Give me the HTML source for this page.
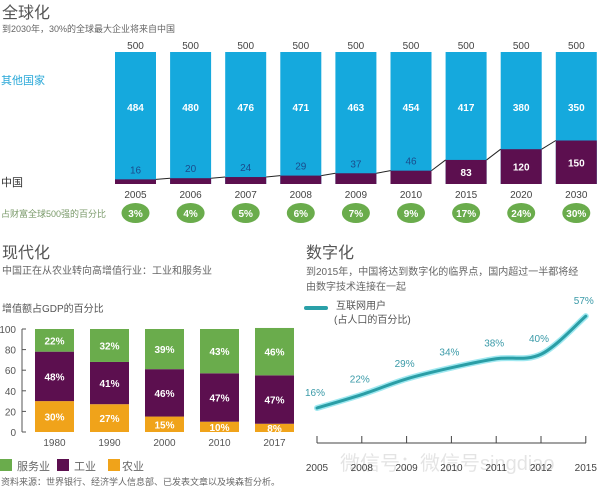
<!DOCTYPE html>
<html><head><meta charset="utf-8"><style>
body{margin:0;background:#fff;}
svg{display:block;font-family:"Liberation Sans","Noto Sans CJK SC",sans-serif;}
</style></head><body>
<svg id="c" width="602" height="488" viewBox="0 0 602 488">
<text x="2" y="18" font-size="16" fill="#555">全球化</text>
<text x="2" y="32" font-size="9" fill="#666">到2030年，30%的全球最大企业将来自中国</text>
<text x="1" y="84" font-size="11" fill="#29a8d8">其他国家</text>
<text x="1" y="186" font-size="11" fill="#333">中国</text>
<text x="1" y="217" font-size="9" fill="#7a9a6a">占财富全球500强的百分比</text>
<g id="topChart"></g>
<text x="2" y="258" font-size="16" fill="#555">现代化</text>
<text x="2" y="274" font-size="10" fill="#666">中国正在从农业转向高增值行业：工业和服务业</text>
<text x="2" y="312" font-size="10" fill="#555">增值额占GDP的百分比</text>
<g id="leftChart"></g>
<rect x="0" y="459" width="12" height="12" fill="#6aac4c"/>
<text x="17" y="470" font-size="11" fill="#666">服务业</text>
<rect x="57" y="459" width="12" height="12" fill="#5c0f4f"/>
<text x="74" y="470" font-size="11" fill="#666">工业</text>
<rect x="108" y="459" width="12" height="12" fill="#f0a31a"/>
<text x="122" y="470" font-size="11" fill="#666">农业</text>
<text x="1" y="485" font-size="9" fill="#666">资料来源：世界银行、经济学人信息部、已发表文章以及埃森哲分析。</text>
<text x="306" y="258" font-size="16" fill="#555">数字化</text>
<text x="306" y="275" font-size="10" fill="#666">到2015年，中国将达到数字化的临界点，国内超过一半都将经</text>
<text x="306" y="290" font-size="10" fill="#666">由数字技术连接在一起</text>
<line x1="306" y1="308" x2="326" y2="308" stroke="#2aa0a8" stroke-width="4" stroke-linecap="round"/>
<text x="336" y="309" font-size="10" fill="#555">互联网用户</text>
<text x="334" y="323" font-size="10" fill="#555">(占人口的百分比)</text>
<g id="rightChart"></g>
<text x="340" y="470" font-size="20" fill="#000" opacity="0.1">微信号：微信号singdiao</text>
</svg>
<script>
const NS="http://www.w3.org/2000/svg";
function mk(p,t,a,txt){const e=document.createElementNS(NS,t);for(const k in a)e.setAttribute(k,a[k]);if(txt!=null)e.textContent=txt;p.appendChild(e);return e;}

// Top chart data
const years1=["2005","2006","2007","2008","2009","2010","2015","2020","2030"];
const chinaVals=[16,20,24,29,37,46,83,120,150];
const otherVals=[484,480,476,471,463,454,417,380,350];
const pctVals=["3%","4%","5%","6%","7%","9%","17%","24%","30%"];
const totalVal=500;

const gTop=document.getElementById('topChart');
const x1=i=>115+i*55.1, bw1=41, yTop=52, yBot=184;
const hC=v=>v*0.29;
let prev=null;
years1.forEach((y,i)=>{
  const x=x1(i), ch=hC(chinaVals[i]);
  let r=mk(gTop,'rect',{x:x,y:yTop,width:bw1,height:yBot-yTop,fill:'#15a9dd'});
  
  r=mk(gTop,'rect',{x:x,y:yBot-ch,width:bw1,height:ch,fill:'#5c0f4f'});
  
  if(prev){let l=mk(gTop,'line',{x1:prev[0],y1:prev[1],x2:x,y2:yBot-ch,stroke:'#222','stroke-width':1});
    }
  prev=[x+bw1,yBot-ch];
  let t=mk(gTop,'text',{x:x+bw1/2,y:49,'text-anchor':'middle','font-size':10,fill:'#444'},String(totalVal));
  
  t=mk(gTop,'text',{x:x+bw1/2,y:111,'text-anchor':'middle','font-size':10,'font-weight':'bold',fill:'#fff'},String(otherVals[i]));
  
  const inside=ch>18;
  t=mk(gTop,'text',{x:x+bw1/2,y:inside?yBot-ch/2+4:yBot-ch-6,'text-anchor':'middle','font-size':10,'font-weight':inside?'bold':'normal',fill:inside?'#fff':'#1a4c8c'},String(chinaVals[i]));
  
  t=mk(gTop,'text',{x:x+bw1/2,y:198,'text-anchor':'middle','font-size':10,fill:'#444'},y);
  
  let e=mk(gTop,'ellipse',{cx:x+bw1/2,cy:213,rx:14,ry:10,fill:'#6aac4c'});
  
  t=mk(gTop,'text',{x:x+bw1/2,y:217,'text-anchor':'middle','font-size':10,'font-weight':'bold',fill:'#fff'},pctVals[i]);
  
});

// Left chart data
const years2=["1980","1990","2000","2010","2017"];
const agri=[30,27,15,10,8];
const indus=[48,41,46,47,47];
const serv=[22,32,39,43,46];
const ticks2=[0,20,40,60,80,100];
const gLeft=document.getElementById('leftChart');
const yL=v=>432-v*1.03;
const x2=i=>35+i*55;
let ax=mk(gLeft,'line',{x1:22,y1:yL(100),x2:22,y2:yL(0),stroke:'#555'});

ticks2.forEach(v=>{
  let l=mk(gLeft,'line',{x1:22,y1:yL(v),x2:26,y2:yL(v),stroke:'#555'});
  
  let t=mk(gLeft,'text',{x:16,y:yL(v)+4,'text-anchor':'end','font-size':10,fill:'#555'},String(v));
  
});
years2.forEach((y,i)=>{
  const x=x2(i);let base=0;
  [[agri,'#f0a31a','agri'],[indus,'#5c0f4f','industry'],[serv,'#6aac4c','services']].forEach(([arr,c,n])=>{
    const v=arr[i];
    let r=mk(gLeft,'rect',{x:x,y:yL(base+v),width:39,height:yL(base)-yL(base+v),fill:c});
    
    let t=mk(gLeft,'text',{x:x+19.5,y:(yL(base)+yL(base+v))/2+4,'text-anchor':'middle','font-size':10,'font-weight':'bold',fill:'#fff'},v+'%');
    
    base+=v;
  });
  let t=mk(gLeft,'text',{x:x+19.5,y:446,'text-anchor':'middle','font-size':10,fill:'#555'},y);
  
});

// Right chart data
const years3=["2005","2008","2009","2010","2011","2012","2015"];
const netVals=[16,22,29,34,38,40,57];
const gRight=document.getElementById('rightChart');
const x3=i=>317+i*44.8;
const y3=v=>408-(v-16)*2.24;
let bl=mk(gRight,'line',{x1:317,y1:443,x2:586,y2:443,stroke:'#444'});

years3.forEach((y,i)=>{
  let l=mk(gRight,'line',{x1:x3(i),y1:436,x2:x3(i),y2:443,stroke:'#444'});
  
  let t=mk(gRight,'text',{x:x3(i),y:471,'text-anchor':'middle','font-size':10,fill:'#444'},y);
  
});
const pts=netVals.map((v,i)=>[x3(i),y3(v)]);
let d='M'+pts[0][0]+','+pts[0][1];
for(let i=0;i<pts.length-1;i++){
  const p0=pts[Math.max(0,i-1)],p1=pts[i],p2=pts[i+1],p3=pts[Math.min(pts.length-1,i+2)];
  d+=' C'+(p1[0]+(p2[0]-p0[0])/6)+','+(p1[1]+(p2[1]-p0[1])/6)+' '+(p2[0]-(p3[0]-p1[0])/6)+','+(p2[1]-(p3[1]-p1[1])/6)+' '+p2[0]+','+p2[1];
}
let glow=mk(gRight,'path',{d:d,fill:'none',stroke:'#9fe8f0','stroke-width':6,'stroke-linecap':'round'});

let ln=mk(gRight,'path',{d:d,fill:'none',stroke:'#2a9ea6','stroke-width':3,'stroke-linecap':'round'});

netVals.forEach((v,i)=>{
  let t=mk(gRight,'text',{x:pts[i][0]-2,y:pts[i][1]-12,'text-anchor':'middle','font-size':10,fill:'#3a9aa8'},v+'%');
  
});
</script>
</body></html>
